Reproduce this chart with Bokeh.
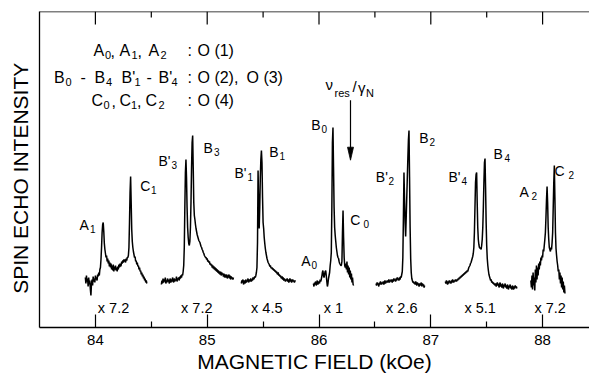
import numpy as np
from bokeh.plotting import figure
from bokeh.models import FixedTicker, LinearAxis, Range1d, ColumnDataSource, Span
from bokeh.core.properties import value
from bokeh.embed import file_html
from bokeh.resources import INLINE

# ---------------- data ----------------
FIELD_STEP = 0.005  # kOe, sampling step of each recorded sweep

# start field (kOe) of each recorded sweep
seg_starts = [83.910, 84.590, 85.305, 85.950, 86.510, 87.130, 87.895]

# spin-echo intensity (arb. units) of each sweep (A1/C1, B'3/B3, B'1/B1, A0/B0/C0, B'2/B2, B'4/B4, A2/C2)
seg1_y = [50, 44, 52, 46, 49, 41, 50, 43, 47, 38,
          32, 44, 48, 42, 51, 46, 49, 45, 52, 48,
          50, 47, 53, 51, 55, 52, 58, 60, 68, 80,
          95, 103, 105, 96, 84, 78, 74, 70, 72, 66,
          69, 64, 67, 61, 65, 60, 64, 58, 62, 57,
          63, 56, 61, 58, 62, 57, 60, 56, 61, 58,
          63, 60, 64, 61, 62, 66, 64, 67, 65, 68,
          66, 68, 65, 69, 67, 70, 70, 72, 80, 105,
          135, 151, 125, 98, 86, 80, 76, 73, 70, 71,
          66, 67, 63, 65, 61, 62, 58, 60, 56, 57,
          53, 55, 51, 53, 49, 51, 47, 49, 45, 47, 44]
seg2_y = [43, 47, 44, 49, 45, 48, 46, 50, 44, 47,
          45, 49, 46, 48, 44, 47, 49, 45, 48, 46,
          50, 47, 45, 49, 46, 48, 47, 51, 46, 49,
          48, 50, 47, 51, 49, 52, 50, 53, 52, 56,
          62, 80, 120, 155, 168, 150, 120, 100, 90, 84,
          82, 86, 100, 125, 160, 185, 192, 160, 125, 112,
          108, 103, 99, 96, 93, 91, 89, 87, 86, 85,
          83, 81, 80, 78, 77, 75, 74, 72, 71, 70,
          70, 68, 69, 66, 67, 65, 66, 63, 64, 62,
          63, 60, 62, 59, 61, 58, 60, 57, 59, 56,
          58, 55, 57, 54, 56, 53, 56, 52, 55, 53,
          54, 51, 54, 50, 53, 52, 50, 53, 49, 52,
          50, 53, 49, 52, 48, 51, 49, 50, 48, 50]
seg3_y = [44, 47, 45, 48, 43, 46, 47, 44, 48, 45,
          47, 46, 49, 45, 48, 46, 47, 49, 46, 48,
          47, 50, 48, 49, 51, 50, 52, 55, 60, 85,
          157, 125, 99, 120, 150, 168, 177, 165, 130, 105,
          99, 90, 84, 79, 75, 72, 69, 67, 65, 64,
          63, 61, 62, 60, 59, 60, 58, 59, 57, 58,
          56, 57, 55, 56, 54, 53, 55, 52, 53, 51,
          52, 50, 49, 51, 48, 50, 47, 49, 48, 46,
          48, 47, 49, 46, 48, 45, 47, 49, 46, 48,
          45, 47, 48, 46, 47, 45, 47, 46]
seg4_y = [44, 41, 45, 43, 46, 42, 44, 47, 43, 45,
          46, 44, 48, 46, 48, 51, 55, 57, 52, 50,
          53, 56, 57, 52, 46, 41, 44, 49, 52, 55,
          62, 67, 75, 120, 185, 200, 160, 120, 100, 92,
          86, 80, 76, 72, 70, 69, 66, 64, 63, 62,
          62, 66, 95, 117, 90, 70, 62, 60, 64, 58,
          66, 55, 62, 53, 60, 50, 57, 48, 54, 45, 50, 43, 42]
seg5_y = [44, 42, 45, 43, 44, 41, 45, 43, 46, 44,
          43, 45, 44, 46, 43, 45, 47, 44, 46, 45,
          47, 45, 46, 48, 45, 47, 46, 48, 47, 45,
          48, 46, 49, 47, 48, 46, 49, 47, 50, 48,
          49, 47, 50, 48, 51, 50, 53, 56, 70, 110,
          155, 130, 105, 91, 110,
          130, 150, 170, 188, 197, 150, 100, 69, 55, 49,
          47, 45, 46, 44, 45,
          43, 46, 44, 42, 45, 43, 44, 41, 44, 42,
          43, 45, 41, 44, 42, 43, 40, 42]
seg6_y = [46, 44, 47, 45, 43, 46, 44, 47, 45, 46,
          44, 47, 45, 48, 46, 45, 47, 46, 48, 47,
          46, 48, 47, 49, 48, 50, 49, 51, 50, 52,
          51, 53, 52, 54, 53, 55, 54, 56, 55, 57,
          56, 58, 60, 61, 62, 64, 65, 67, 69, 71,
          74, 80, 95, 120, 145, 153, 155, 125, 100, 88,
          83, 80, 79, 80, 78, 82, 88, 100, 120, 145,
          165, 169, 140, 105, 82, 69, 62, 57, 53, 51,
          49, 47, 48, 45, 46, 44, 45, 43, 44, 42,
          44, 41, 43, 45, 42, 44, 40, 43, 45, 41,
          43, 40, 44, 42, 39, 43, 41, 44, 40, 42,
          39, 43, 41, 38, 42, 40, 43, 39, 41, 38,
          42, 40, 38, 41, 39, 42, 40, 41, 39]
seg7_y = [47, 40, 52, 38, 55, 42, 50, 37, 58, 45,
          62, 48, 60, 52, 64, 58, 66, 62, 70, 67,
          72, 70, 78, 76, 82, 88, 95, 110, 128, 141,
          125, 100, 88, 80, 78, 76, 80, 78, 85, 95,
          120, 145, 162, 130, 95, 79, 72, 66, 62, 56,
          58, 48, 55, 44, 52, 40, 50, 38, 46, 35, 42, 34]
segments_y = [seg1_y, seg2_y, seg3_y, seg4_y, seg5_y, seg6_y, seg7_y]

# gain factor printed under each sweep
multipliers = ["x 7.2", "x 7.2", "x 4.5", "x 1", "x 2.6", "x 5.1", "x 7.2"]

# axis ticks
major_ticks = [84, 85, 86, 87, 88]
minor_ticks = [84.5, 85.5, 86.5, 87.5]
tick_labels = ["84", "85", "86", "87", "88"]

# ---------------- layout ----------------
FONT = "Liberation Sans"
ORIGIN = 2                      # observed page offset of the canvas
FRAME_W, FRAME_H = 550, 316
ML, MT, MR, MB = 39, 11, 0, 50
W = ML + FRAME_W + MR
H = MT + FRAME_H + MB
X_START = 83.5
PX_PER_KOE = 111.8
X_END = X_START + FRAME_W / PX_PER_KOE
PAGE_LEFT = ORIGIN + ML
PAGE_BOTTOM = ORIGIN + MT + FRAME_H
MAJOR_LEN, MINOR_LEN = 13, 6
TEXT_DY = 2


def fx(px):
    return X_START + (px - PAGE_LEFT) / PX_PER_KOE


def fy(py):
    return PAGE_BOTTOM - py


p = figure(width=W, height=H, output_backend="svg", toolbar_location=None,
           x_range=Range1d(X_START, X_END), y_range=Range1d(0, FRAME_H),
           min_border_left=ML, min_border_right=MR, min_border_top=MT,
           min_border_bottom=MB, x_axis_location=None, y_axis_location=None)
p.grid.visible = False
p.outline_line_color = None
p.background_fill_color = "white"
p.border_fill_color = "white"

bottom = LinearAxis(ticker=FixedTicker(ticks=major_ticks, minor_ticks=minor_ticks),
                    major_tick_in=MAJOR_LEN, major_tick_out=0,
                    minor_tick_in=MINOR_LEN, minor_tick_out=0,
                    major_label_overrides={t: l for t, l in zip(major_ticks, tick_labels)},
                    major_label_text_font=FONT, major_label_text_font_size="15px",
                    major_label_text_color="black", major_label_standoff=7,
                    axis_label="MAGNETIC FIELD (kOe)", axis_label_standoff=2,
                    axis_label_text_font=FONT, axis_label_text_font_size="21px",
                    axis_label_text_font_style="normal", axis_label_text_color="black",
                    axis_line_width=1.3, major_tick_line_width=1.2,
                    minor_tick_line_width=1.2)
p.add_layout(bottom, "below")
left = LinearAxis(ticker=FixedTicker(ticks=[]), major_tick_in=0, major_tick_out=0,
                  minor_tick_in=0, minor_tick_out=0, major_label_standoff=0,
                  axis_label="SPIN ECHO INTENSITY\u00a0\u00a0\u00a0",
                  axis_label_standoff=8, axis_label_text_font=FONT,
                  axis_label_text_font_size="21px", axis_label_text_font_style="normal",
                  axis_label_text_color="black", axis_line_width=1.3)
p.add_layout(left, "left")

# top frame edge with inward ticks
p.add_layout(Span(location=FRAME_H, dimension="width", line_color="black", line_width=1.3))
p.segment(x0=major_ticks, y0=[FRAME_H] * len(major_ticks), x1=major_ticks,
          y1=[FRAME_H - MAJOR_LEN] * len(major_ticks), line_color="black", line_width=1.2)
p.segment(x0=minor_ticks, y0=[FRAME_H] * len(minor_ticks), x1=minor_ticks,
          y1=[FRAME_H - MINOR_LEN] * len(minor_ticks), line_color="black", line_width=1.2)

# spectra
for start, ys in zip(seg_starts, segments_y):
    xs = start + FIELD_STEP * np.arange(len(ys))
    p.line(xs, ys, line_color="black", line_width=1.5)


def add_texts(items, size, align="left"):
    src = ColumnDataSource(dict(x=[fx(i[1]) for i in items],
                                y=[fy(i[2] + TEXT_DY) for i in items],
                                t=[i[0] for i in items]))
    p.text(x="x", y="y", text="t", source=src, text_font=value(FONT),
           text_font_size=size, text_align=align, text_baseline="middle",
           text_color="black")


# peak labels (main letter, subscript)
peak_main = [("A", 81, 224), ("C", 141.7, 185), ("B'", 160, 160), ("B", 205, 147),
             ("B'", 236, 172), ("B", 270.7, 151), ("B", 312.7, 124.3), ("A", 302.7, 260.7),
             ("C", 351.7, 219.3), ("B'", 377.3, 176), ("B", 420.7, 137.3), ("B'", 450, 176),
             ("B", 495, 153.3), ("A", 521, 191.7), ("C", 556, 170)]
peak_sub = [("1", 91.5, 228), ("1", 152.5, 189), ("3", 173, 164), ("3", 215.5, 151),
            ("1", 249, 176), ("1", 281, 155), ("0", 323, 128.3), ("0", 313, 264.7),
            ("0", 365, 223.3), ("2", 390, 180), ("2", 431, 141.3), ("4", 463, 180),
            ("4", 506, 157.3), ("2", 533, 195.7), ("2", 570, 174)]
add_texts(peak_main, "14px")
add_texts(peak_sub, "10px")

# gain factors
mult_px = [115, 198.3, 268.3, 335, 403.3, 481.7, 551.7]
add_texts([(m, x, 307) for m, x in zip(multipliers, mult_px)], "14.5px", "center")

# assignment block
block_main = [("A", 95, 50), (",", 112, 50), ("A", 121, 50), (",", 139, 50), ("A", 150, 50),
              (":", 189, 50), ("O (1)", 199, 50),
              ("B", 55.5, 77), ("-", 82, 76), ("B", 96, 77), ("B'", 123, 77), ("-", 148, 76),
              ("B'", 160, 77), (":", 189, 77), ("O (2),", 199, 77), ("O (3)", 248, 77),
              ("C", 93, 100), (",", 113, 100), ("C", 121, 100), (",", 138.5, 100),
              ("C", 147, 100), (":", 189, 100), ("O (4)", 199, 100)]
block_sub = [("0", 106.5, 54), ("1", 133, 54), ("2", 162, 54),
             ("0", 67, 81), ("4", 107.5, 81), ("1", 136, 81), ("4", 173, 81),
             ("0", 105, 104), ("1", 132.5, 104), ("2", 160, 104)]
add_texts(block_main, "16px")
add_texts(block_sub, "11px")

# resonance marker
add_texts([("\u03bd", 327, 83.5), ("/", 354, 86), ("\u03b3", 359.5, 86.5)], "15px")
add_texts([("res", 336, 92.5), ("N", 367.5, 92.5)], "11px")
ARROW_PX, ARROW_TOP, ARROW_TIP, HEAD_LEN, HEAD_HALF = 352, 101.7, 161.7, 13, 3
p.line([fx(ARROW_PX), fx(ARROW_PX)], [fy(ARROW_TOP), fy(ARROW_TIP - HEAD_LEN + 2)],
       line_color="black", line_width=1.2)
p.patch([fx(ARROW_PX - HEAD_HALF), fx(ARROW_PX + HEAD_HALF), fx(ARROW_PX)],
        [fy(ARROW_TIP - HEAD_LEN), fy(ARROW_TIP - HEAD_LEN), fy(ARROW_TIP)],
        fill_color="black", line_color="black", line_width=0.8)

open("out.html", "w").write(file_html(p, INLINE))
